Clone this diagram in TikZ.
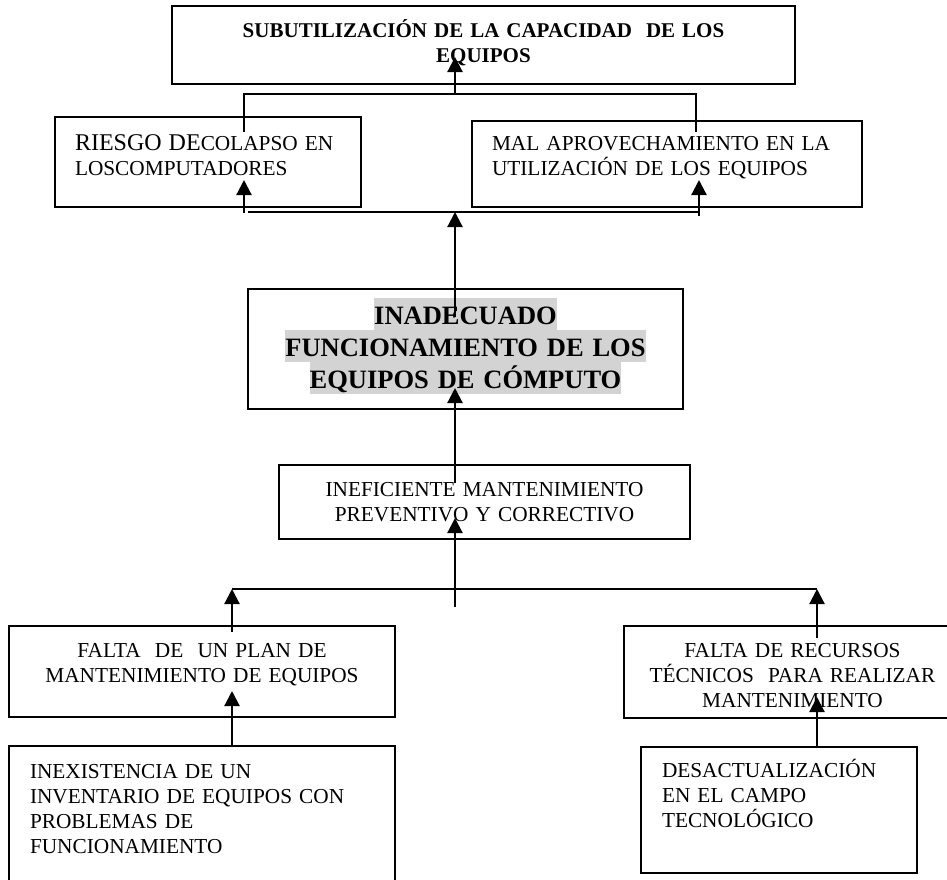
\documentclass[tikz,border=0pt]{standalone}
\usepackage{fontspec}
\setmainfont{Liberation Serif}
\usepackage{tikz}
\usetikzlibrary{arrows.meta,calc}

\definecolor{gris}{HTML}{D3D3D3}
\newcommand{\letra}{\fontsize{21.3}{25}\selectfont}
\newcommand{\letranegra}{\fontsize{21}{25}\selectfont\bfseries}
\newcommand{\letragrande}{\fontsize{26.5}{32}\selectfont\bfseries}
\newcommand{\resalte}[1]{{\setlength{\fboxsep}{0pt}\colorbox{gris}{\vrule height 26pt depth 6pt width 0pt #1}}}

\tikzset{
	caja/.style={draw, line width=1.8pt, anchor=north west, inner ysep=0pt, outer sep=0pt, font=\letra},
	linea/.style={line width=1.5pt},
	flecha/.style={line width=2.2pt, -{Triangle[width=15pt,length=15pt]}},
}

\begin{document}
\begin{tikzpicture}[x=1pt, y=-1pt]
	\useasboundingbox (0,0) rectangle (947,879);
	% efectos
	\node[caja, text width=603pt, inner xsep=10pt, text height=31pt, text depth=47pt, align=center, font=\letranegra] (sub) at (172,6) {SUBUTILIZACIÓN DE LA CAPACIDAD~~DE LOS\\EQUIPOS};
	\node[caja, text width=266pt, inner xsep=20pt, text height=33pt, text depth=57pt, align=left] (riesgo) at (55,117) {{\fontsize{24}{25}\selectfont RIESGO DE}COLAPSO EN\\LOSCOMPUTADORES};
	\node[caja, text width=350pt, inner xsep=20pt, text height=29pt, text depth=57pt, align=left] (mal) at (472,121) {MAL APROVECHAMIENTO EN LA\\UTILIZACIÓN DE LOS EQUIPOS};
	% problema central
	\node[caja, text width=435pt, inner xsep=0pt, text height=35pt, text depth=85pt, align=center, font=\letragrande] (inadecuado) at (248,289) {\resalte{INADECUADO}\\\resalte{FUNCIONAMIENTO DE LOS}\\\resalte{EQUIPOS DE CÓMPUTO}};
	% causas
	\node[caja, text width=411pt, inner xsep=0pt, text height=31pt, text depth=43pt, align=center] (ineficiente) at (279,465) {INEFICIENTE MANTENIMIENTO\\PREVENTIVO Y CORRECTIVO};
	\node[caja, text width=386pt, inner xsep=0pt, text height=31pt, text depth=60pt, align=center] (faltaplan) at (9,626) {FALTA~~DE~~UN PLAN DE\\MANTENIMIENTO DE EQUIPOS};
	\node[caja, text width=337pt, inner xsep=0pt, text height=31pt, text depth=61pt, align=center] (faltarec) at (624,626) {FALTA DE RECURSOS\\TÉCNICOS~~PARA REALIZAR\\MANTENIMIENTO};
	\node[caja, text width=344pt, inner xsep=21pt, text height=32pt, text depth=106pt, align=left] (inexistencia) at (9,746) {INEXISTENCIA DE UN\\INVENTARIO DE EQUIPOS CON\\PROBLEMAS DE\\FUNCIONAMIENTO};
	\node[caja, text width=234pt, inner xsep=21pt, text height=30pt, text depth=96pt, align=left] (desact) at (641,747) {DESACTUALIZACIÓN\\EN EL CAMPO\\TECNOLÓGICO};
	% puntos de union
	\coordinate (jsup) at (455,94);
	\coordinate (jmed) at (455,212);
	\coordinate (jinf) at (455,589);
	% extremos dentro de las cajas
	\coordinate (pr1) at (244,132);
	\coordinate (pm1) at (696,132);
	\coordinate (ps) at (455,57);
	\coordinate (pr2) at (244,180);
	\coordinate (pm2) at (699,180);
	\coordinate (pi1) at (455,317);
	\coordinate (pi2) at (455,388);
	\coordinate (pe1) at (455,483);
	\coordinate (pe2) at (455,518);
	\coordinate (pf1) at (232,632);
	\coordinate (pf2) at (232,691);
	\coordinate (pt1) at (817,638);
	\coordinate (pt2) at (817,697);
	% conectores
	\draw[linea] (pr1) |- (jsup) -| (pm1);
	\draw[flecha] (jsup) -- (ps);
	\draw[linea] ($(pr2 |- jmed)+(4,0)$) -- (pm2 |- jmed);
	\draw[flecha] ($(pr2 |- jmed)+(0,1)$) -- (pr2);
	\draw[flecha] ($(pm2 |- jmed)+(0,4)$) -- (pm2);
	\draw[flecha] (pi1) -- (jmed);
	\draw[flecha] (pe1) -- (pi2);
	\draw[flecha] ($(jinf)+(0,18)$) -- (pe2);
	\draw[linea] (pf1 |- jinf) -- (pt1 |- jinf);
	\draw[flecha] (pf1) -- (pf1 |- jinf);
	\draw[flecha] (pt1) -- (pt1 |- jinf);
	\draw[flecha] (inexistencia.north -| pf2) -- (pf2);
	\draw[flecha] (desact.north -| pt2) -- (pt2);
\end{tikzpicture}
\end{document}
